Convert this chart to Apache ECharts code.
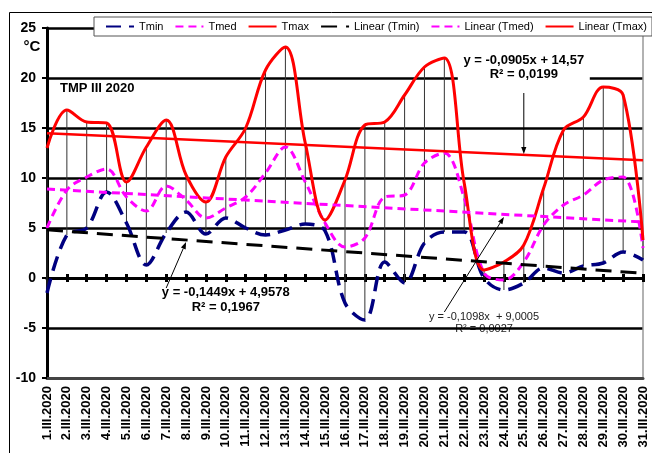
<!DOCTYPE html>
<html><head><meta charset="utf-8">
<script src="https://cdn.jsdelivr.net/npm/echarts@6/dist/echarts.min.js"></script>
<style>html,body{margin:0;padding:0;background:#fff}#c{width:652px;height:453px}</style>
</head><body><div id="c"></div>
<script>
const categories = ['1.III.2020','2.III.2020','3.III.2020','4.III.2020','5.III.2020','6.III.2020','7.III.2020','8.III.2020','9.III.2020','10.III.2020','11.III.2020','12.III.2020','13.III.2020','14.III.2020','15.III.2020','16.III.2020','17.III.2020','18.III.2020','19.III.2020','20.III.2020','21.III.2020','22.III.2020','23.III.2020','24.III.2020','25.III.2020','26.III.2020','27.III.2020','28.III.2020','29.III.2020','30.III.2020','31.III.2020'];
const tmin = [-1.5, 4.3, 5.0, 8.6, 5.5, 1.3, 4.5, 6.6, 4.4, 6.0, 5.0, 4.3, 4.8, 5.4, 4.7, -2.5, -4.2, 1.6, -0.5, 3.5, 4.6, 4.6, 0.0, -1.2, -0.5, 1.0, 0.5, 1.2, 1.5, 2.6, 1.8];
const tmed = [5.0, 8.8, 10.1, 10.9, 8.1, 6.7, 9.2, 7.8, 6.0, 7.0, 8.1, 10.5, 13.1, 9.6, 5.5, 3.1, 4.0, 8.1, 8.3, 11.5, 12.5, 8.0, 0.5, -0.2, 1.6, 5.3, 7.3, 8.3, 9.8, 10.1, 3.0];
const tmax = [13.0, 16.8, 15.6, 15.5, 9.6, 13.1, 15.8, 10.3, 7.6, 12.1, 15.0, 20.8, 23.1, 13.5, 5.8, 9.8, 15.3, 15.6, 18.3, 21.1, 22.0, 9.5, 0.8, 1.6, 3.3, 9.0, 14.8, 16.1, 19.1, 18.3, 3.8];
// trend line coefficients as printed on the chart (Tmin, Tmed, Tmax)
const trendSlope = [-0.1449, -0.1098, -0.0905];
const trendIntercept = [4.9578, 9.0005, 14.57];
const eqTmin = ['y = -0,1449x + 4,9578', 'R² = 0,1967'];
const eqTmed = ['y = -0,1098x  + 9,0005', 'R² = 0,0027'];
const eqTmax = ['y = -0,0905x + 14,57', 'R² = 0,0199'];
const yTicks = {min: -10, max: 25, interval: 5};

const FF = "'Liberation Sans', Arial, sans-serif";
function trend(k){
  const n = categories.length;
  return [[0, trendIntercept[k] + trendSlope[k]*1], [n-1, trendIntercept[k] + trendSlope[k]*n]];
}
const hiLo = categories.map((c,i)=>[i, Math.max(tmax[i],tmed[i],tmin[i]), Math.min(tmax[i],tmed[i],tmin[i])]);

const chart = echarts.init(document.getElementById('c'), null, {renderer:'canvas'});
const SM = 0.35;
const option = {
  animation: false,
  backgroundColor: '#fff',
  textStyle: {fontFamily: FF},
  grid: {left: 47, right: 9, top: 28, bottom: 75, containLabel: false, outerBoundsMode: 'none'},
  legend: {
    left: 94, top: 17, width: 620, padding: [4, 5, 4, 11], itemWidth: 28, itemHeight: 11, itemGap: 11,
    backgroundColor: '#fff', borderColor: '#555', borderWidth: 1,
    itemStyle: {color: 'rgba(0,0,0,0)', borderWidth: 0, opacity: 0},
    textStyle: {fontSize: 11, color: '#000', fontFamily: FF},
    data: ['Tmin','Tmed','Tmax','Linear (Tmin)','Linear (Tmed)','Linear (Tmax)']
  },
  xAxis: [
    {type:'category', data: categories, boundaryGap:false, position:'bottom',
     axisLine:{show:true, onZero:false, lineStyle:{color:'#444', width:3}},
     axisTick:{show:false}, splitLine:{show:false},
     axisLabel:{rotate:90, interval:0, fontSize:13, fontWeight:'bold', color:'#000', margin:8, fontFamily:FF}},
    {type:'category', data: categories, boundaryGap:false, position:'bottom',
     axisLine:{show:true, onZero:true, onZeroAxisIndex:0, lineStyle:{color:'#000', width:3}},
     axisTick:{show:true, interval:0, length:4, lineStyle:{color:'#000', width:3}},
     axisLabel:{show:false}, splitLine:{show:false}},
    {type:'category', data: categories, boundaryGap:false, position:'bottom',
     axisLine:{show:true, onZero:true, onZeroAxisIndex:0, lineStyle:{color:'#000', width:3}},
     axisTick:{show:true, inside:true, interval:0, length:4, lineStyle:{color:'#000', width:3}},
     axisLabel:{show:false}, splitLine:{show:false}}
  ],
  yAxis: [
    {type:'value', min:yTicks.min, max:yTicks.max, interval:yTicks.interval,
     axisLine:{show:true, onZero:false, lineStyle:{color:'#000', width:3}},
     axisTick:{show:true, length:5, lineStyle:{color:'#000', width:2}},
     splitLine:{show:true, lineStyle:{color:'#000', width:2.5}},
     axisLabel:{fontSize:14, fontWeight:'bold', color:'#000', margin:11, fontFamily:FF}},
    {type:'value', min:yTicks.min, max:yTicks.max, interval:yTicks.interval, position:'right',
     axisLine:{show:true, onZero:false, lineStyle:{color:'#999', width:1.5}},
     axisTick:{show:false}, axisLabel:{show:false}, splitLine:{show:false}}
  ],
  series: [
    {type:'custom', name:'hilo', silent:true, z:1, data: hiLo, encode:{x:0, y:[1,2]},
     renderItem: function(params, api){
       const a = api.coord([api.value(0), api.value(1)]);
       const b = api.coord([api.value(0), api.value(2)]);
       return {type:'line', shape:{x1:a[0], y1:a[1], x2:b[0], y2:b[1]}, style:{stroke:'#333', lineWidth:1}};
     }},
    {name:'Tmin', type:'line', data:tmin, smooth:SM, symbol:'none', showSymbol:false, z:3,
     itemStyle:{color:'#000080'}, lineStyle:{color:'#000080', width:3.5, type:[15,8]}},
    {name:'Tmed', type:'line', data:tmed, smooth:SM, symbol:'none', showSymbol:false, z:3,
     itemStyle:{color:'#FF00FF'}, lineStyle:{color:'#FF00FF', width:3, type:[8,5]}},
    {name:'Tmax', type:'line', data:tmax, smooth:SM, symbol:'none', showSymbol:false, z:3,
     itemStyle:{color:'#FF0000'}, lineStyle:{color:'#FF0000', width:3}},
    {name:'Linear (Tmin)', type:'line', data:trend(0), symbol:'none', showSymbol:false, z:4,
     itemStyle:{color:'#000'}, lineStyle:{color:'#000', width:3, type:[16,9]}},
    {name:'Linear (Tmed)', type:'line', data:trend(1), symbol:'none', showSymbol:false, z:4,
     itemStyle:{color:'#FF00FF'}, lineStyle:{color:'#FF00FF', width:3, type:[8,5]}},
    {name:'Linear (Tmax)', type:'line', data:trend(2), symbol:'none', showSymbol:false, z:4,
     itemStyle:{color:'#FF0000'}, lineStyle:{color:'#FF0000', width:2.5}}
  ]
};
chart.setOption(option);

function px(i, v){ return chart.convertToPixel({gridIndex:0}, [i, v]); }
function arrow(t, h){
  const dx=h[0]-t[0], dy=h[1]-t[1], L=Math.hypot(dx,dy), ux=dx/L, uy=dy/L;
  const s=7, w=2.6;
  const bx=h[0]-ux*s, by=h[1]-uy*s;
  return [
    {type:'line', z:60, shape:{x1:t[0], y1:t[1], x2:bx, y2:by}, style:{stroke:'#000', lineWidth:1}},
    {type:'polygon', z:60, shape:{points:[[h[0],h[1]],[bx-uy*w,by+ux*w],[bx+uy*w,by-ux*w]]}, style:{fill:'#000'}}
  ];
}
function txt(p, s, font, extra){
  return Object.assign({type:'text', z:55, x:p[0], y:p[1],
    style:Object.assign({text:s, font:font, fill:'#000', align:'center', verticalAlign:'middle'}, extra||{})});
}
const pTmax1 = px(23.8, 21.8), pTmax2 = px(23.8, 20.4);
const pTmin1 = px(8.5, -1.4), pTmin2 = px(8.5, -2.9);
const pTmed1 = px(21.6, -3.9), pTmed2 = px(21.6, -5.1);
const g = [
  {type:'rect', z:-30, shape:{x:9.5, y:12.5, width:700, height:500}, style:{fill:'none', stroke:'#000', lineWidth:1}},
  {type:'text', z:55, x:32, y:47, style:{text:'°C', font:"bold 15px "+FF, fill:'#000', align:'center', verticalAlign:'middle'}},
  {type:'text', z:55, x:60, y:88, style:{text:'TMP III 2020', font:"bold 13px "+FF, fill:'#000', align:'left', verticalAlign:'middle'}},
  {type:'rect', z:2, shape:{x:pTmax1[0]-66, y:pTmax1[1]-9, width:132, height:31}, style:{fill:'#fff'}},
  txt(pTmax1, eqTmax[0], "bold 13px "+FF),
  txt(pTmax2, eqTmax[1], "bold 13px "+FF),
  txt(pTmin1, eqTmin[0], "bold 13px "+FF),
  txt(pTmin2, eqTmin[1], "bold 13px "+FF),
  txt(pTmed1, eqTmed[0], "11px "+FF, {fill:'#222'}),
  Object.assign(txt(pTmed2, eqTmed[1], "11px "+FF, {fill:'#222'}), {z:-10}),
].concat(
  arrow(px(23.75, 18.5), px(23.9, 12.4)),
  arrow(px(6.04, -1.0), px(7.05, 3.6)),
  arrow(px(19.5, -3.4), px(22.55, 6.1))
);
chart.setOption({graphic: g});
</script></body></html>
